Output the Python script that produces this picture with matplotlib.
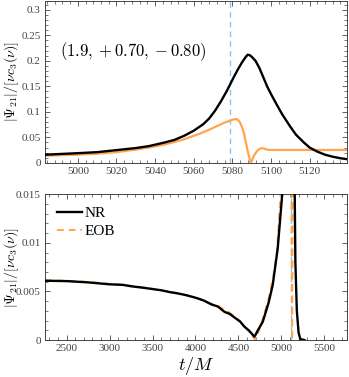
import numpy as np
import matplotlib
matplotlib.use("Agg")
import matplotlib.pyplot as plt
from matplotlib.ticker import MultipleLocator

# --- data ------------------------------------------------------------------
# top panel: zoom on the merger
t_top_nr = [4983, 5000, 5010, 5020, 5030, 5037, 5045, 5050, 5055, 5060, 5065,
            5068, 5071, 5074, 5077, 5079, 5081, 5083, 5085, 5087, 5088, 5089,
            5090, 5092, 5094, 5096, 5098, 5100, 5103, 5106, 5110, 5113, 5117,
            5120, 5124, 5128, 5132, 5136, 5140]
a_top_nr = [0.016, 0.019, 0.021, 0.025, 0.029, 0.033, 0.040, 0.045, 0.053,
            0.063, 0.076, 0.087, 0.102, 0.120, 0.140, 0.155, 0.170, 0.184,
            0.197, 0.208, 0.212, 0.211, 0.208, 0.200, 0.186, 0.168, 0.150,
            0.135, 0.114, 0.094, 0.071, 0.055, 0.040, 0.030, 0.022, 0.016,
            0.012, 0.009, 0.007]

t_top_eob = [4983, 5000, 5010, 5020, 5030, 5037, 5045, 5054, 5063, 5068, 5072,
             5076, 5079, 5081, 5082, 5083, 5084, 5085, 5086, 5087, 5088, 5089,
             5089.6, 5090.3, 5091, 5092, 5093, 5094, 5095, 5096, 5097, 5098.5,
             5100, 5140]
a_top_eob = [0.014, 0.016, 0.018, 0.021, 0.026, 0.030, 0.036, 0.045, 0.057,
             0.065, 0.072, 0.079, 0.0830, 0.0856, 0.0858, 0.0840, 0.079, 0.070,
             0.058, 0.040, 0.022, 0.007, 0.0, 0.006, 0.013, 0.019, 0.024,
             0.027, 0.0285, 0.0287, 0.027, 0.0255, 0.0253, 0.0253]

# bottom panel: full inspiral
t_bot_nr = [2250, 2500, 2750, 3000, 3150, 3250, 3400, 3525, 3600, 3700, 3792,
            3900, 4028, 4100, 4183, 4260, 4338, 4400, 4454, 4520, 4570, 4620,
            4687, 4720, 4783, 4850, 4899, 4957, 5010, 5040, 5150, 5163, 5180,
            5200, 5220, 5268]
a_bot_nr = [0.00610, 0.00606, 0.00593, 0.00573, 0.00568, 0.00553, 0.00537,
            0.00521, 0.00512, 0.00493, 0.00480, 0.00460, 0.00428, 0.00405,
            0.00367, 0.00345, 0.00290, 0.00268, 0.00232, 0.00190, 0.00137,
            0.00100, 0.00034, 0.00090, 0.00188, 0.00380, 0.00565, 0.00940,
            0.0150, 0.0200, 0.0200, 0.0080, 0.0030, 0.0008, 0.0001, 0.0]

t_bot_eob = [2250, 2500, 2750, 3000, 3250, 3500, 3750, 4000, 4250, 4400, 4500,
             4600, 4698, 4760, 4850, 4900, 4950, 4990, 5020, 5115, 5125, 5135,
             5200]
a_bot_eob = [0.00614, 0.00610, 0.00598, 0.00578, 0.00558, 0.00527, 0.00490,
             0.00435, 0.00355, 0.00280, 0.00210, 0.00110, 0.0, 0.00150,
             0.00420, 0.00620, 0.00920, 0.0150, 0.0200, 0.0200, 0.0, 0.0200,
             0.0200]

t_mark_top = 5079
t_mark_bot = 5113

top_yticks = [0, 0.05, 0.1, 0.15, 0.2, 0.25, 0.3]
top_ylabels = ['0', '0.05', '0.1', '0.15', '0.2', '0.25', '0.3']
bot_yticks = [0, 0.005, 0.01, 0.015]
bot_ylabels = ['0', '0.005', '0.01', '0.015']

label = r'$(1.9,+0.70,-0.80)$'
ylab = r'$|\Psi_{21}|/[\nu c_3(\nu)]$'

# --- style -----------------------------------------------------------------
plt.rcParams['font.family'] = 'serif'
plt.rcParams['font.serif'] = ['Liberation Serif', 'DejaVu Serif']
plt.rcParams['mathtext.fontset'] = 'cm'

orange = '#FFA54F'
blue = '#8CC4E8'
gray = '#444444'

fig = plt.figure(figsize=(3.49, 3.77), dpi=100)
ax1 = fig.add_axes([0.129, 0.568, 0.866, 0.429])
ax2 = fig.add_axes([0.129, 0.098, 0.866, 0.387])


def style(ax, xmaj, xmin, ymaj, ymin):
    ax.xaxis.set_major_locator(MultipleLocator(xmaj))
    ax.xaxis.set_minor_locator(MultipleLocator(xmin))
    ax.yaxis.set_minor_locator(MultipleLocator(ymin))
    ax.tick_params(which='both', direction='in', top=True, right=True,
                   color=gray, labelsize=8, labelcolor=gray, pad=3)
    ax.tick_params(which='major', length=3.5, width=0.6)
    ax.tick_params(which='minor', length=2, width=0.5)
    for s in ax.spines.values():
        s.set_color(gray)
        s.set_linewidth(0.7)


# 1) top panel
ax1.plot(t_top_eob, a_top_eob, color=orange, lw=1.6, zorder=2)
ax1.plot(t_top_nr, a_top_nr, color='black', lw=1.7, zorder=3)
ax1.axvline(t_mark_top, color=blue, lw=1.0, ls=(0, (4, 3)), zorder=1)
ax1.set_xlim(4983, 5139.5)
ax1.set_ylim(0, 0.317)
ax1.set_yticks(top_yticks)
ax1.set_yticklabels(top_ylabels)
style(ax1, 20, 4, 0.05, 0.01)
ax1.text(0.05, 0.685, label, transform=ax1.transAxes, fontsize=12,
         ha='left', va='center')
ax1.set_ylabel(ylab, fontsize=10)
ax1.yaxis.set_label_coords(-0.08, 0.5)

# 2) bottom panel
ax2.plot(t_bot_eob, a_bot_eob, color=orange, lw=1.4, ls=(0, (3.5, 2.5)),
         label='EOB', zorder=2)
ax2.plot(t_bot_nr, a_bot_nr, color='black', lw=1.7, label='NR', zorder=3)
ax2.axvline(t_mark_bot, color=blue, lw=1.0, ls=(0, (4, 3)), zorder=1)
ax2.set_xlim(2248, 5767)
ax2.set_ylim(0, 0.015)
ax2.set_yticks(bot_yticks)
ax2.set_yticklabels(bot_ylabels)
style(ax2, 500, 100, 0.005, 0.001)
ax2.set_ylabel(ylab, fontsize=10)
ax2.yaxis.set_label_coords(-0.08, 0.5)
ax2.set_xlabel(r'$t/M$', fontsize=13, labelpad=1)

h, l = ax2.get_legend_handles_labels()
ax2.legend(h[::-1], l[::-1], loc='upper left', frameon=False, fontsize=11,
           handlelength=1.6, handletextpad=0.2, labelspacing=0.3,
           borderaxespad=0.4)

fig.savefig('out.png', dpi=100)
